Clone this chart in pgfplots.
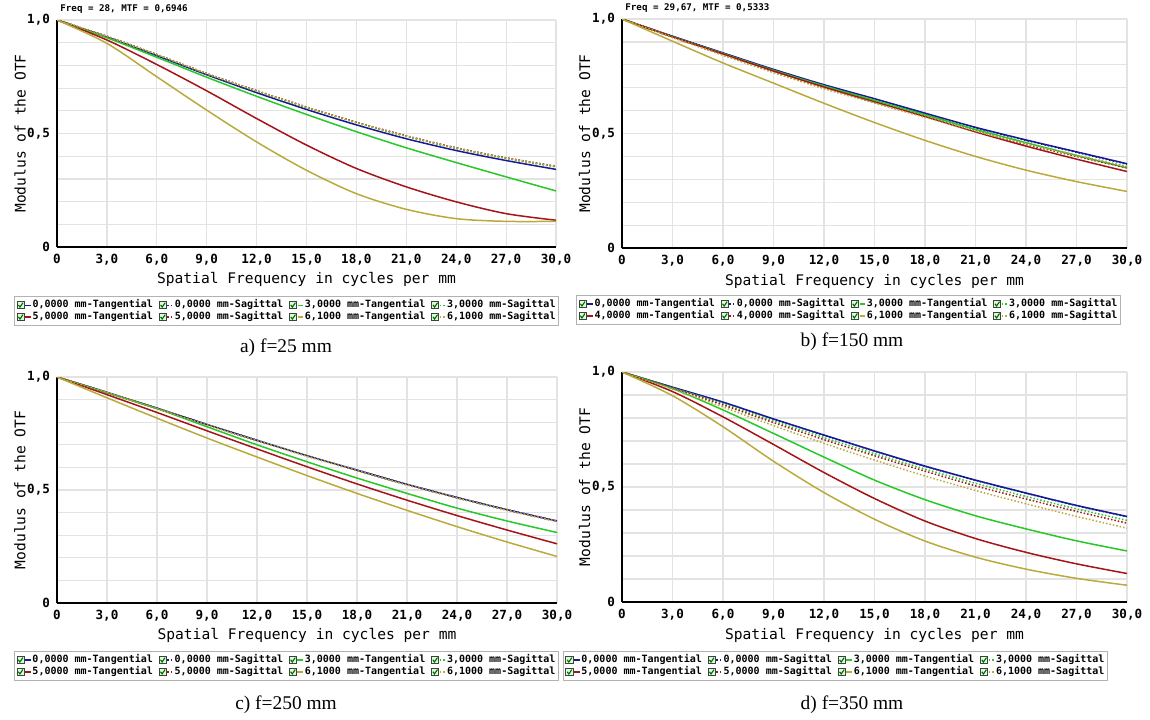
\documentclass[border=0pt]{standalone}
\usepackage{fontspec}
\setmainfont{Liberation Serif}
\newfontfamily\zfont{DejaVu Sans Mono}
\usepackage{pgfplots}
\usepackage{pgfplotstable}
\pgfplotsset{compat=1.18}

\definecolor{cBlue}{RGB}{25,25,150}
\definecolor{cGreen}{RGB}{40,200,40}
\definecolor{cRed}{RGB}{165,20,25}
\definecolor{cOlive}{RGB}{185,170,60}

% f = spatial frequency, t = tangential, s = sagittal
\pgfplotstableread{
f  t0    s0    t3    s3    t5    s5    t6    s6
0  1     1     1     1     1     1     1     1
3  0.925 0.928 0.922 0.927 0.912 0.928 0.897 0.928
6  0.843 0.848 0.836 0.847 0.804 0.848 0.750 0.848
9  0.759 0.764 0.748 0.762 0.688 0.764 0.603 0.764
12 0.680 0.688 0.664 0.686 0.566 0.689 0.463 0.688
15 0.606 0.616 0.584 0.614 0.449 0.617 0.338 0.616
18 0.538 0.549 0.508 0.547 0.346 0.550 0.235 0.549
21 0.477 0.489 0.437 0.487 0.265 0.490 0.166 0.489
24 0.425 0.436 0.372 0.434 0.199 0.437 0.125 0.436
27 0.381 0.392 0.309 0.390 0.147 0.393 0.113 0.392
30 0.342 0.355 0.247 0.353 0.118 0.356 0.113 0.355
}\tabA

\pgfplotstableread{
f  t0    s0    t3    s3    t4    s4    t6    s6
0  1     1     1     1     1     1     1     1
3  0.925 0.924 0.923 0.922 0.922 0.920 0.903 0.920
6  0.852 0.850 0.849 0.847 0.847 0.843 0.808 0.842
9  0.780 0.778 0.776 0.773 0.773 0.768 0.720 0.766
12 0.713 0.711 0.708 0.705 0.703 0.698 0.632 0.696
15 0.652 0.650 0.645 0.642 0.638 0.635 0.548 0.633
18 0.589 0.587 0.582 0.579 0.574 0.572 0.470 0.571
21 0.527 0.525 0.518 0.515 0.507 0.510 0.400 0.510
24 0.472 0.470 0.460 0.457 0.445 0.452 0.340 0.455
27 0.420 0.418 0.404 0.405 0.388 0.400 0.290 0.404
30 0.368 0.366 0.350 0.356 0.334 0.350 0.247 0.354
}\tabB

\pgfplotstableread{
f  t0    s0    t3    s3    t5    s5    t6    s6
0  1     1     1     1     1     1     1     1
3  0.932 0.932 0.930 0.931 0.922 0.931 0.908 0.931
6  0.862 0.862 0.860 0.861 0.843 0.861 0.818 0.860
9  0.790 0.790 0.780 0.789 0.762 0.789 0.730 0.788
12 0.720 0.720 0.700 0.719 0.682 0.718 0.646 0.718
15 0.652 0.652 0.625 0.651 0.603 0.650 0.564 0.650
18 0.588 0.588 0.553 0.587 0.527 0.586 0.485 0.586
21 0.525 0.525 0.485 0.524 0.455 0.523 0.410 0.523
24 0.467 0.467 0.420 0.466 0.387 0.465 0.338 0.465
27 0.413 0.413 0.363 0.412 0.323 0.411 0.270 0.411
30 0.363 0.363 0.312 0.362 0.262 0.361 0.206 0.361
}\tabC

\pgfplotstableread{
f  t0    s0    t3    s3    t5    s5    t6    s6
0  1     1     1     1     1     1     1     1
3  0.934 0.933 0.928 0.932 0.915 0.930 0.897 0.926
6  0.869 0.868 0.835 0.862 0.805 0.857 0.762 0.848
9  0.796 0.795 0.733 0.787 0.685 0.780 0.612 0.767
12 0.726 0.725 0.630 0.715 0.563 0.706 0.476 0.690
15 0.657 0.656 0.530 0.645 0.450 0.636 0.360 0.617
18 0.591 0.590 0.445 0.578 0.352 0.569 0.265 0.548
21 0.530 0.529 0.375 0.516 0.276 0.505 0.195 0.485
24 0.474 0.473 0.318 0.459 0.216 0.448 0.143 0.427
27 0.420 0.419 0.266 0.405 0.166 0.394 0.103 0.372
30 0.372 0.371 0.222 0.355 0.124 0.343 0.073 0.321
}\tabD

\pgfplotsset{
  mtf/.style={
    scale only axis, anchor=south west,
    xmin=0, xmax=30, ymin=0, ymax=1,
    xtick={0,3,...,30},
    xticklabels={0,{3,0},{6,0},{9,0},{12,0},{15,0},{18,0},{21,0},{24,0},{27,0},{30,0}},
    ytick={0,0.5,1}, yticklabels={0,{0,5},{1,0}},
    minor ytick={0.1,0.2,0.3,0.4,0.6,0.7,0.8,0.9},
    grid=both,
    major grid style={gray!22, line width=0.6pt},
    minor grid style={gray!22, line width=0.6pt},
    major tick length=0pt, minor tick length=0pt,
    axis x line*=bottom, axis y line*=left,
    axis line style={black, line width=1pt},
    ticklabel style={font=\zfont\bfseries\fontsize{6.3}{7}\selectfont},
    xlabel={Spatial Frequency in cycles per mm},
    ylabel={Modulus of the OTF},
    label style={font=\zfont\fontsize{7.3}{8}\selectfont},
    xlabel style={at={(axis description cs:0.5,-0.145)}, anchor=center},
    ylabel style={at={(axis description cs:-0.074,0.5)}, anchor=center},
    every axis title/.style={at={(axis description cs:0,1)}, anchor=south west,
      inner sep=0pt, yshift=3.2pt, xshift=1.5pt,
      font=\zfont\bfseries\fontsize{4.6}{5}\selectfont},
    legend columns=4, legend cell align=left,
    legend style={anchor=north west, draw=gray!60, line width=0.5pt, fill=white,
      inner sep=1pt, row sep=-0.6pt, nodes={inner sep=0.5pt},
      font=\zfont\bfseries\fontsize{5}{5.6}\selectfont,
      /tikz/every even column/.append style={column sep=2.4pt}},
    legend image code/.code={
      \draw[solid, line width=0.4pt, draw=black!75, fill=green!15] (0pt,-1.8pt) rectangle (3.6pt,1.8pt);
      \draw[solid, line width=0.55pt, draw=green!40!black] (0.7pt,0.1pt) -- (1.5pt,-1pt) -- (3pt,1.2pt);
      \draw[##1, line width=0.6pt] (4.1pt,0pt) -- (7pt,0pt);
    },
  },
  tan/.style={solid, line width=0.75pt, smooth},
  sag/.style={densely dotted, line width=0.75pt, smooth},
}

% eight series of one panel, table and the four field heights
\newcommand{\mtfseries}[5]{%
  \addplot[tan, cBlue]  table[x=f, y index=1]{#1}; \addlegendentry{#2 mm-Tangential}
  \addplot[sag, cBlue]  table[x=f, y index=2]{#1}; \addlegendentry{#2 mm-Sagittal}
  \addplot[tan, cGreen] table[x=f, y index=3]{#1}; \addlegendentry{#3 mm-Tangential}
  \addplot[sag, cGreen] table[x=f, y index=4]{#1}; \addlegendentry{#3 mm-Sagittal}
  \addplot[tan, cRed]   table[x=f, y index=5]{#1}; \addlegendentry{#4 mm-Tangential}
  \addplot[sag, cRed]   table[x=f, y index=6]{#1}; \addlegendentry{#4 mm-Sagittal}
  \addplot[tan, cOlive] table[x=f, y index=7]{#1}; \addlegendentry{#5 mm-Tangential}
  \addplot[sag, cOlive] table[x=f, y index=8]{#1}; \addlegendentry{#5 mm-Sagittal}
}

\begin{document}
\begin{tikzpicture}
\path[use as bounding box] (0pt,0pt) rectangle (575pt,-359.5pt);

\begin{axis}[mtf, at={(28.5pt,-123.5pt)}, width=249.5pt, height=113.5pt,
    title={Freq = 28, MTF = 0,6946},
    legend style={at={(-0.086,-0.216)}}]
\mtfseries{\tabA}{0,0000}{3,0000}{5,0000}{6,1000}
\end{axis}

\begin{axis}[mtf, at={(311pt,-124pt)}, width=252.5pt, height=114.5pt,
    title={Freq = 29,67, MTF = 0,5333},
    legend style={at={(-0.091,-0.205)}}]
\mtfseries{\tabB}{0,0000}{3,0000}{4,0000}{6,1000}
\end{axis}

\begin{axis}[mtf, at={(28.5pt,-301.5pt)}, width=250pt, height=113pt,
    legend style={at={(-0.086,-0.212)}}]
\mtfseries{\tabC}{0,0000}{3,0000}{5,0000}{6,1000}
\end{axis}

\begin{axis}[mtf, at={(311pt,-301pt)}, width=252.5pt, height=115pt,
    legend style={at={(-0.117,-0.213)}}]
\mtfseries{\tabD}{0,0000}{3,0000}{5,0000}{6,1000}
\end{axis}

\node[font=\fontsize{9.7}{11}\selectfont] at (143pt,-174pt) {a) f=25 mm};
\node[font=\fontsize{9.7}{11}\selectfont] at (426pt,-171pt) {b) f=150 mm};
\node[font=\fontsize{9.7}{11}\selectfont] at (143pt,-352.5pt) {c) f=250 mm};
\node[font=\fontsize{9.7}{11}\selectfont] at (426pt,-352.5pt) {d) f=350 mm};
\end{tikzpicture}
\end{document}
